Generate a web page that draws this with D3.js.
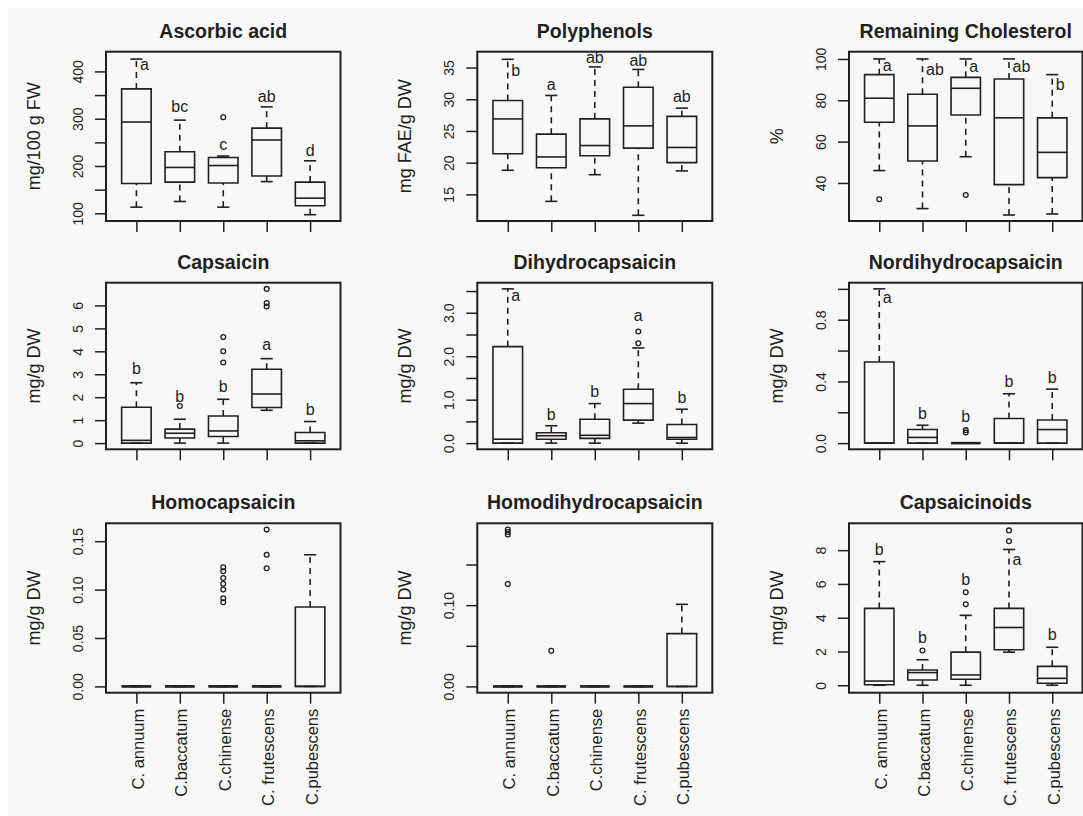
<!DOCTYPE html>
<html>
<head>
<meta charset="utf-8">
<script src="https://cdn.jsdelivr.net/npm/d3@7"></script>
<style>
  body { margin: 0; background: #fff; }
  svg { display: block; }
  text { font-family: "Liberation Sans", Arial, Helvetica, sans-serif; fill: #231f20; }
</style>
</head>
<body>
<svg id="chart"></svg>
<script>
const species = ["C. annuum", "C.baccatum", "C.chinense", "C. frutescens", "C.pubescens"];

// box stats per species: [low whisker, Q1, median, Q3, high whisker]
const ascorbicStats = [[113, 163, 293, 363, 426], [125, 166, 197, 230, 297], [113, 164, 201, 218, 221], [167, 179, 255, 280, 325], [97, 116, 132, 166, 211]];
const ascorbicOutliers = [[], [], [303], [], []];
const ascorbicLetters = ["a", "bc", "c", "ab", "d"];
const ascorbicLetterY = [402, 315, 233, 336, 221];
const ascorbicTicks = [100, 150, 200, 250, 300, 350, 400];
const ascorbicTickLabels = ["100", "", "200", "", "300", "", "400"];

const polyStats = [[18.8, 21.4, 26.9, 29.8, 36.3], [13.9, 19.2, 20.9, 24.5, 30.6], [18.1, 21.1, 22.7, 26.9, 35.1], [11.7, 22.3, 25.8, 31.9, 34.7], [18.7, 20.0, 22.4, 27.3, 28.6]];
const polyOutliers = [[], [], [], [], []];
const polyLetters = ["b", "a", "ab", "ab", "ab"];
const polyLetterY = [33.7, 31.5, 35.7, 35.3, 29.6];
const polyTicks = [15, 20, 25, 30, 35];
const polyTickLabels = ["15", "20", "25", "30", "35"];

const cholStats = [[46, 69.4, 81, 92.4, 100], [27.6, 50.6, 67.6, 82.9, 100], [52.7, 72.9, 85.8, 91.1, 100], [24.5, 39.2, 71.5, 90.3, 100], [25, 42.6, 54.8, 71.5, 92.4]];
const cholOutliers = [[32.1], [], [34.2], [], []];
const cholLetters = ["a", "ab", "a", "ab", "b"];
const cholLetterY = [94.4, 92.3, 93.9, 93.9, 85];
const cholTicks = [40, 60, 80, 100];
const cholTickLabels = ["40", "60", "80", "100"];

const capStats = [[0, 0, 0.12, 1.56, 2.63], [0, 0.22, 0.43, 0.61, 1.04], [0, 0.29, 0.53, 1.18, 1.91], [1.43, 1.55, 2.14, 3.22, 3.68], [0, 0, 0.1, 0.46, 0.94]];
const capOutliers = [[], [1.62], [3.51, 4.0, 4.62], [5.95, 6.1, 6.72], []];
const capLetters = ["b", "b", "b", "a", "b"];
const capLetterY = [3.03, 1.81, 2.21, 4.05, 1.23];
const capTicks = [0, 1, 2, 3, 4, 5, 6];
const capTickLabels = ["0", "1", "2", "3", "4", "5", "6"];

const dihydroStats = [[0, 0, 0.09, 2.22, 3.55], [0, 0.09, 0.17, 0.24, 0.4], [0, 0.11, 0.18, 0.55, 0.91], [0.46, 0.53, 0.91, 1.24, 2.19], [0, 0.09, 0.13, 0.43, 0.78]];
const dihydroOutliers = [[], [], [], [2.3, 2.57], []];
const dihydroLetters = ["a", "b", "b", "a", "b"];
const dihydroLetterY = [3.28, 0.54, 1.07, 2.8, 0.92];
const dihydroTicks = [0, 0.5, 1, 1.5, 2, 2.5, 3, 3.5];
const dihydroTickLabels = ["0.0", "", "1.0", "", "2.0", "", "3.0", ""];

const nordiStats = [[0, 0, 0, 0.526, 1.0], [0, 0, 0.037, 0.088, 0.116], [0, 0, 0, 0, 0], [0, 0, 0, 0.16, 0.32], [0, 0, 0.088, 0.15, 0.35]];
const nordiOutliers = [[], [], [0.069, 0.084], [], []];
const nordiLetters = ["a", "b", "b", "b", "b"];
const nordiLetterY = [0.91, 0.155, 0.134, 0.366, 0.392];
const nordiTicks = [0, 0.2, 0.4, 0.6, 0.8, 1.0];
const nordiTickLabels = ["0.0", "", "0.4", "", "0.8", ""];

const homoStats = [[0, 0, 0, 0, 0], [0, 0, 0, 0, 0], [0, 0, 0, 0, 0], [0, 0, 0, 0, 0], [0, 0, 0, 0.082, 0.136]];
const homoOutliers = [[], [], [0.087, 0.091, 0.1, 0.106, 0.112, 0.119, 0.123], [0.122, 0.136, 0.162], []];
const homoLetters = [];
const homoLetterY = [];
const homoTicks = [0, 0.05, 0.1, 0.15];
const homoTickLabels = ["0.00", "0.05", "0.10", "0.15"];

const homodiStats = [[0, 0, 0, 0, 0], [0, 0, 0, 0, 0], [0, 0, 0, 0, 0], [0, 0, 0, 0, 0], [0, 0, 0, 0.065, 0.101]];
const homodiOutliers = [[0.126, 0.187, 0.19, 0.193], [0.044], [], [], []];
const homodiLetters = [];
const homodiLetterY = [];
const homodiTicks = [0, 0.05, 0.1, 0.15];
const homodiTickLabels = ["0.00", "", "0.10", ""];

const totalStats = [[0, 0.03, 0.25, 4.55, 7.32], [0, 0.31, 0.75, 0.9, 1.51], [0, 0.36, 0.61, 1.96, 4.14], [1.96, 2.1, 3.42, 4.55, 8.04], [0, 0.12, 0.41, 1.12, 2.25]];
const totalOutliers = [[], [2.06], [4.79, 5.51], [8.53, 9.17], []];
const totalLetters = ["b", "b", "b", "a", "b"];
const totalLetterY = [7.71, 2.51, 5.95, 7.12, 2.7];
const totalTicks = [0, 2, 4, 6, 8];
const totalTickLabels = ["0", "2", "4", "6", "8"];

const panels = [
  { title: "Ascorbic acid", ylab: "mg/100 g FW", stats: ascorbicStats, out: ascorbicOutliers, letters: ascorbicLetters, letterY: ascorbicLetterY, right: [1, 0, 0, 0, 0], domain: [83.7, 441.7], ticks: ascorbicTicks, tickLabels: ascorbicTickLabels },
  { title: "Polyphenols", ylab: "mg FAE/g DW", stats: polyStats, out: polyOutliers, letters: polyLetters, letterY: polyLetterY, right: [1, 0, 0, 0, 0], domain: [10.8, 37.5], ticks: polyTicks, tickLabels: polyTickLabels },
  { title: "Remaining Cholesterol", ylab: "%", stats: cholStats, out: cholOutliers, letters: cholLetters, letterY: cholLetterY, right: [1, 1, 1, 1, 1], domain: [21.6, 103.5], ticks: cholTicks, tickLabels: cholTickLabels },
  { title: "Capsaicin", ylab: "mg/g DW", stats: capStats, out: capOutliers, letters: capLetters, letterY: capLetterY, right: [0, 0, 0, 0, 0], domain: [-0.27, 6.99], ticks: capTicks, tickLabels: capTickLabels },
  { title: "Dihydrocapsaicin", ylab: "mg/g DW", stats: dihydroStats, out: dihydroOutliers, letters: dihydroLetters, letterY: dihydroLetterY, right: [1, 0, 0, 0, 0], domain: [-0.142, 3.692], ticks: dihydroTicks, tickLabels: dihydroTickLabels },
  { title: "Nordihydrocapsaicin", ylab: "mg/g DW", stats: nordiStats, out: nordiOutliers, letters: nordiLetters, letterY: nordiLetterY, right: [1, 0, 0, 0, 0], domain: [-0.04, 1.04], ticks: nordiTicks, tickLabels: nordiTickLabels },
  { title: "Homocapsaicin", ylab: "mg/g DW", stats: homoStats, out: homoOutliers, letters: homoLetters, letterY: homoLetterY, right: [], domain: [-0.0065, 0.1685], ticks: homoTicks, tickLabels: homoTickLabels },
  { title: "Homodihydrocapsaicin", ylab: "mg/g DW", stats: homodiStats, out: homodiOutliers, letters: homodiLetters, letterY: homodiLetterY, right: [], domain: [-0.0077, 0.2007], ticks: homodiTicks, tickLabels: homodiTickLabels },
  { title: "Capsaicinoids", ylab: "mg/g DW", stats: totalStats, out: totalOutliers, letters: totalLetters, letterY: totalLetterY, right: [0, 0, 0, 1, 0], domain: [-0.44, 9.59], ticks: totalTicks, tickLabels: totalTickLabels }
];

const width = 1083;
const height = 816;
const ink = "#231f20";

const colLeft = [106, 477.3, 849];
const colWidth = [234.5, 235, 233.5];
const rowTop = [51.7, 282.7, 523.3];
const rowHeight = [169.3, 166.6, 169.4];

const svg = d3.select("#chart").attr("width", width).attr("height", height);

svg.append("rect").attr("width", width).attr("height", height).attr("fill", "#fff");
svg.append("rect").attr("x", 8).attr("y", 8).attr("width", width - 8).attr("height", height - 8).attr("fill", "#f8f8f8");

panels.forEach((p, i) => {
  const col = i % 3;
  const row = Math.floor(i / 3);
  const left = colLeft[col];
  const top = rowTop[row];
  const w = colWidth[col];
  const h = rowHeight[row];

  const x = d3.scalePoint().domain(species).range([left, left + w]).padding(0.7);
  const y = d3.scaleLinear().domain(p.domain).range([top + h, top]);
  const boxW = x.step() * 0.68;
  const capW = x.step() * 0.28;

  const g = svg.append("g");

  // y axis, R style: rotated tick labels, some ticks unlabeled
  const yAxis = g.append("g")
    .attr("transform", `translate(${left},0)`)
    .call(d3.axisLeft(y).tickValues(p.ticks).tickSize(11).tickFormat((d, k) => p.tickLabels[k]));
  yAxis.select(".domain").remove();
  yAxis.selectAll(".tick line").attr("stroke", ink).attr("stroke-width", 1.5);
  yAxis.selectAll(".tick text")
    .attr("x", null).attr("dy", null)
    .attr("text-anchor", "middle")
    .attr("transform", "translate(-23,0) rotate(-90)")
    .style("font-size", "14px")
    .attr("fill", ink);

  // x axis: ticks everywhere, species names on bottom row only
  const xAxis = g.append("g")
    .attr("transform", `translate(0,${top + h})`)
    .call(d3.axisBottom(x).tickSize(11).tickFormat(d => (row === 2 ? d : "")));
  xAxis.select(".domain").remove();
  xAxis.selectAll(".tick line").attr("stroke", ink).attr("stroke-width", 1.5);
  xAxis.selectAll(".tick text")
    .attr("y", null).attr("dy", null)
    .attr("text-anchor", "end")
    .attr("transform", "translate(7,16) rotate(-90)")
    .style("font-size", "16.5px")
    .attr("fill", ink);

  // whiskers
  const boxes = g.selectAll(".box").data(p.stats).enter().append("g").attr("class", "box");
  boxes.append("line")
    .attr("x1", (d, k) => x(species[k])).attr("x2", (d, k) => x(species[k]))
    .attr("y1", d => y(d[3])).attr("y2", d => y(d[4]))
    .attr("stroke", ink).attr("stroke-width", 1.6).attr("stroke-dasharray", "6,5");
  boxes.append("line")
    .attr("x1", (d, k) => x(species[k])).attr("x2", (d, k) => x(species[k]))
    .attr("y1", d => y(d[0])).attr("y2", d => y(d[1]))
    .attr("stroke", ink).attr("stroke-width", 1.6).attr("stroke-dasharray", "6,5");
  [0, 4].forEach(j => {
    boxes.append("line")
      .attr("x1", (d, k) => x(species[k]) - capW / 2).attr("x2", (d, k) => x(species[k]) + capW / 2)
      .attr("y1", d => y(d[j])).attr("y2", d => y(d[j]))
      .attr("stroke", ink).attr("stroke-width", 1.6);
  });

  // box body and median
  boxes.append("path")
    .attr("d", (d, k) => {
      const cx = x(species[k]);
      return `M${cx - boxW / 2},${y(d[1])}H${cx + boxW / 2}V${y(d[3])}H${cx - boxW / 2}Z`;
    })
    .attr("fill", "none").attr("stroke", ink).attr("stroke-width", 1.6);
  boxes.append("line")
    .attr("x1", (d, k) => x(species[k]) - boxW / 2).attr("x2", (d, k) => x(species[k]) + boxW / 2)
    .attr("y1", d => y(d[2])).attr("y2", d => y(d[2]))
    .attr("stroke", ink).attr("stroke-width", d => (d[3] - d[1] === 0 ? 2.6 : 1.6));

  // outliers
  const pts = p.out.flatMap((arr, k) => arr.map(v => ({ k, v })));
  g.selectAll(".outlier").data(pts).enter().append("circle")
    .attr("cx", d => x(species[d.k])).attr("cy", d => y(d.v)).attr("r", 2.4)
    .attr("fill", "none").attr("stroke", ink).attr("stroke-width", 1.3);

  // significance letters
  g.selectAll(".letter").data(p.letters).enter().append("text")
    .attr("x", (d, k) => x(species[k]) + (p.right[k] ? 3.5 : 0))
    .attr("y", (d, k) => y(p.letterY[k]))
    .attr("text-anchor", (d, k) => (p.right[k] ? "start" : "middle"))
    .style("font-size", "16px")
    .text(d => d);

  // frame
  g.append("rect")
    .attr("x", left).attr("y", top).attr("width", w).attr("height", h)
    .attr("fill", "none").attr("stroke", ink).attr("stroke-width", 2);

  // title and y label
  g.append("text")
    .attr("x", left + w / 2).attr("y", top - 14)
    .attr("text-anchor", "middle")
    .style("font-size", "19.5px").style("font-weight", "bold")
    .text(p.title);

  g.append("text")
    .attr("transform", `translate(${left - 66},${top + h / 2}) rotate(-90)`)
    .attr("text-anchor", "middle")
    .style("font-size", "18px")
    .text(p.ylab);
});
</script>
</body>
</html>
